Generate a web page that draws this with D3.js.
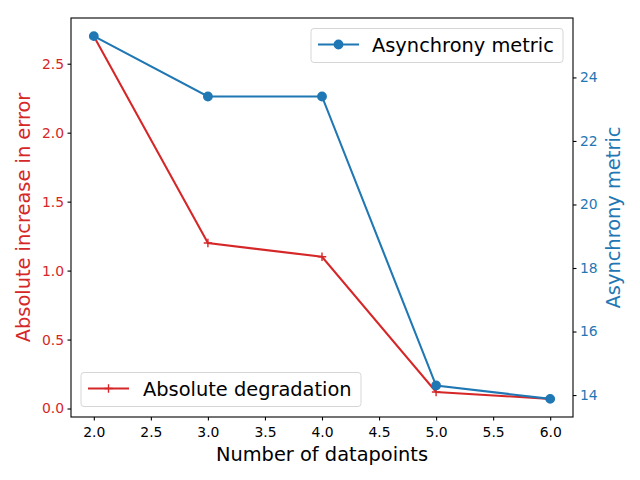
<!DOCTYPE html>
<html>
<head>
<meta charset="utf-8">
<script src="https://cdn.jsdelivr.net/npm/d3@7"></script>
<style>
  body { margin: 0; background: #fff; }
  svg { font-family: "DejaVu Sans", sans-serif; }
</style>
</head>
<body>
<div id="chart"></div>
<script>
const w = 640
const h = 480
const margin = { left: 71, right: 67, top: 18, bottom: 63 }

// Data
const datapoints = [2, 3, 4, 5, 6]
const degradation = [2.7, 1.2, 1.1, 0.12, 0.07]
const asynchrony = [25.3, 23.4, 23.4, 14.3, 13.88]

const xTicks = [2.0, 2.5, 3.0, 3.5, 4.0, 4.5, 5.0, 5.5, 6.0]
const leftTicks = [0.0, 0.5, 1.0, 1.5, 2.0, 2.5]
const rightTicks = [14, 16, 18, 20, 22, 24]

const red = "#d62728"
const blue = "#1f77b4"

const svg = d3.select("#chart")
              .append("svg")
                .attr("width", w)
                .attr("height", h)

// matplotlib style 5% padding
const padded = arr => {
  const [lo, hi] = d3.extent(arr)
  const p = (hi - lo) * 0.05
  return [lo - p, hi + p]
}

const xScale = d3.scaleLinear()
                  .domain(padded(datapoints))
                  .range([margin.left, w - margin.right])

const yLeft = d3.scaleLinear()
                  .domain(padded(degradation))
                  .range([h - margin.bottom, margin.top])

const yRight = d3.scaleLinear()
                  .domain(padded(asynchrony))
                  .range([h - margin.bottom, margin.top])

const fmt1 = d3.format(".1f")

// --- axes ---
const xAxis = svg.append("g")
  .attr("transform", `translate(0,${h - margin.bottom})`)
  .call(d3.axisBottom(xScale).tickValues(xTicks).tickFormat(fmt1).tickSizeInner(3.5).tickSizeOuter(0).tickPadding(3.5))

const leftAxis = svg.append("g")
  .attr("transform", `translate(${margin.left},0)`)
  .call(d3.axisLeft(yLeft).tickValues(leftTicks).tickFormat(fmt1).tickSizeInner(3.5).tickSizeOuter(0).tickPadding(3.5))

const rightAxis = svg.append("g")
  .attr("transform", `translate(${w - margin.right},0)`)
  .call(d3.axisRight(yRight).tickValues(rightTicks).tickFormat(d3.format("d")).tickSizeInner(3.5).tickSizeOuter(0).tickPadding(3.5))

;[xAxis, leftAxis, rightAxis].forEach(g => {
  g.select(".domain").remove()
  g.selectAll(".tick line").attr("stroke", "#000").attr("stroke-width", 1.1)
  g.selectAll(".tick text").attr("font-size", 13.9).attr("font-family", "DejaVu Sans").attr("fill", "#000")
})
xAxis.selectAll(".tick text").attr("dy", "0.94em")
leftAxis.selectAll(".tick text").attr("fill", red)
rightAxis.selectAll(".tick text").attr("fill", blue)

// frame
svg.append("rect")
  .attr("x", margin.left)
  .attr("y", margin.top)
  .attr("width", w - margin.left - margin.right)
  .attr("height", h - margin.top - margin.bottom)
  .attr("fill", "none")
  .attr("stroke", "#000")
  .attr("stroke-width", 1.1)

// labels
svg.append("text")
  .attr("x", (margin.left + w - margin.right) / 2)
  .attr("y", 461)
  .attr("text-anchor", "middle")
  .attr("font-size", 19.4)
  .text("Number of datapoints")

svg.append("text")
  .attr("transform", `translate(30,${(margin.top + h - margin.bottom) / 2}) rotate(-90)`)
  .attr("text-anchor", "middle")
  .attr("font-size", 19.4)
  .attr("fill", red)
  .text("Absolute increase in error")

svg.append("text")
  .attr("transform", `translate(620,${(margin.top + h - margin.bottom) / 2}) rotate(-90)`)
  .attr("text-anchor", "middle")
  .attr("font-size", 19.4)
  .attr("fill", blue)
  .text("Asynchrony metric")

// --- red series (left axis) ---
const redLine = d3.line()
  .x((d, i) => xScale(datapoints[i]))
  .y(d => yLeft(d))

svg.append("path")
  .datum(degradation)
  .attr("d", redLine)
  .attr("fill", "none")
  .attr("stroke", red)
  .attr("stroke-width", 2.08)

svg.selectAll(".plus")
  .data(degradation)
  .enter()
  .append("path")
    .attr("class", "plus")
    .attr("transform", (d, i) => `translate(${xScale(datapoints[i])},${yLeft(d)})`)
    .attr("d", "M-4.2,0H4.2M0,-4.2V4.2")
    .attr("stroke", red)
    .attr("stroke-width", 1.4)

// lower left legend (red)
const legendBox = (x, y, width, height) => {
  svg.append("rect")
    .attr("x", x).attr("y", y)
    .attr("width", width).attr("height", height)
    .attr("rx", 3)
    .attr("fill", "#fff").attr("fill-opacity", 0.8)
    .attr("stroke", "#d6d6d6").attr("stroke-width", 1)
}

legendBox(81, 372.5, 280, 34)
svg.append("line")
  .attr("x1", 88).attr("x2", 129).attr("y1", 388.5).attr("y2", 388.5)
  .attr("stroke", red).attr("stroke-width", 2.08)
svg.append("path")
  .attr("d", "M104.3,388.5h8.4M108.5,384.3v8.4")
  .attr("stroke", red).attr("stroke-width", 1.4)
svg.append("text")
  .attr("x", 143).attr("y", 395.5)
  .attr("font-size", 19.4)
  .text("Absolute degradation")

// --- blue series (right axis) ---
const blueLine = d3.line()
  .x((d, i) => xScale(datapoints[i]))
  .y(d => yRight(d))

svg.append("path")
  .datum(asynchrony)
  .attr("d", blueLine)
  .attr("fill", "none")
  .attr("stroke", blue)
  .attr("stroke-width", 2.08)

svg.selectAll(".dot")
  .data(asynchrony)
  .enter()
  .append("circle")
    .attr("class", "dot")
    .attr("cx", (d, i) => xScale(datapoints[i]))
    .attr("cy", d => yRight(d))
    .attr("r", 4.2)
    .attr("fill", blue)
    .attr("stroke", blue)
    .attr("stroke-width", 1.4)

// upper right legend (blue)
legendBox(311, 28.5, 252, 34)
svg.append("line")
  .attr("x1", 318).attr("x2", 359).attr("y1", 44.5).attr("y2", 44.5)
  .attr("stroke", blue).attr("stroke-width", 2.08)
svg.append("circle")
  .attr("cx", 338.5).attr("cy", 44.5).attr("r", 4.2)
  .attr("fill", blue).attr("stroke", blue).attr("stroke-width", 1.4)
svg.append("text")
  .attr("x", 372).attr("y", 51.5)
  .attr("font-size", 19.4)
  .text("Asynchrony metric")
</script>
</body>
</html>
